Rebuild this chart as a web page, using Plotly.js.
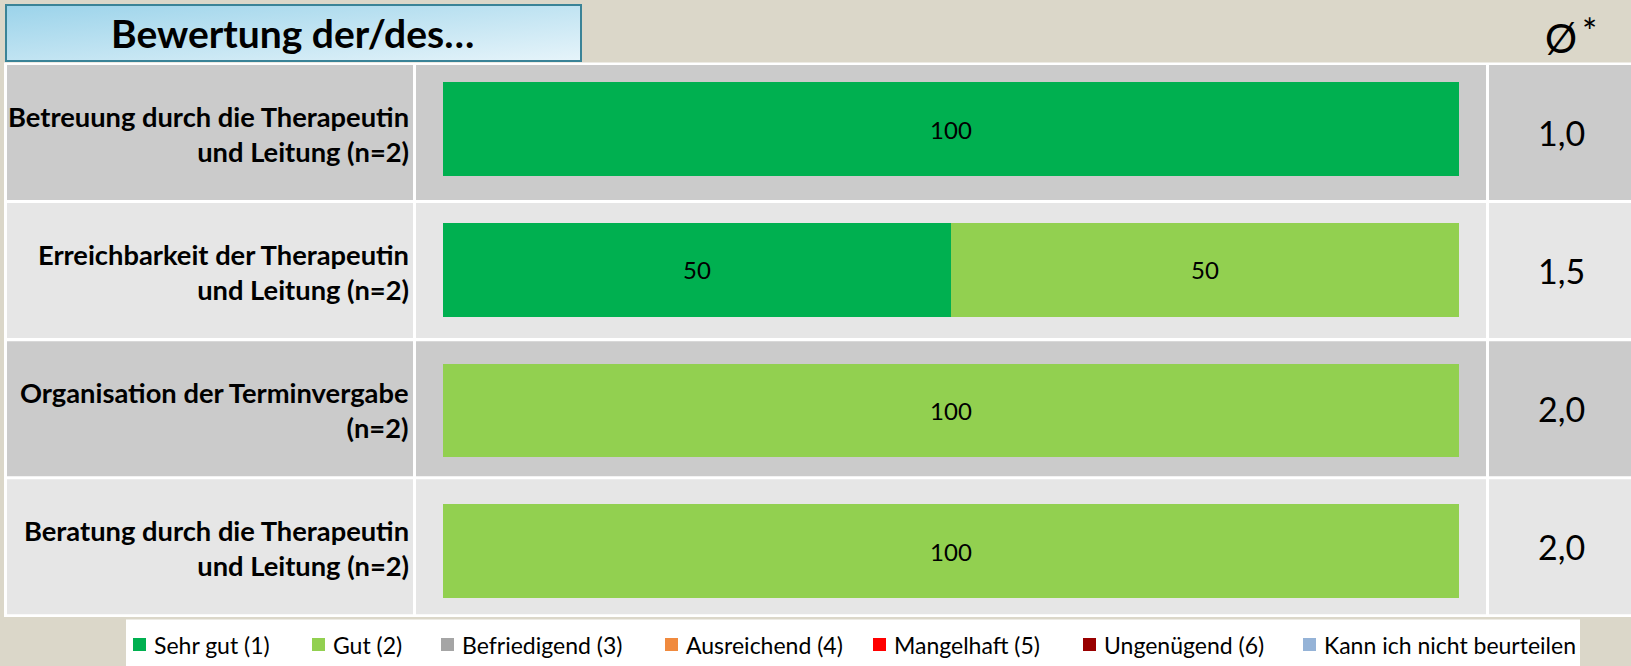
<!DOCTYPE html>
<html>
<head>
<meta charset="utf-8">
<script src="https://cdn.plot.ly/plotly-3.0.1.min.js"></script>
<style>
  html, body { margin: 0; padding: 0; background: #dbd7c9; }
  #chart { width: 1631px; height: 666px; }
</style>
</head>
<body>
<div id="chart"></div>
<script>
// ---------------- DATA ----------------
const titleText = "Bewertung der/des…";
const avgHeader = "Ø";
const avgMark = "*";
const categories = [
  "Betreuung durch die Therapeutin<br>und Leitung (n=2)",
  "Erreichbarkeit der Therapeutin<br>und Leitung (n=2)",
  "Organisation der Terminvergabe<br>(n=2)",
  "Beratung durch die Therapeutin<br>und Leitung (n=2)"
];
const seriesNames = ["Sehr gut (1)", "Gut (2)", "Befriedigend (3)", "Ausreichend (4)", "Mangelhaft (5)", "Ungenügend (6)", "Kann ich nicht beurteilen"];
const sehrGut      = [100, 50, 0, 0];
const gut          = [0, 50, 100, 100];
const befriedigend = [0, 0, 0, 0];
const ausreichend  = [0, 0, 0, 0];
const mangelhaft   = [0, 0, 0, 0];
const ungenuegend  = [0, 0, 0, 0];
const kannNicht    = [0, 0, 0, 0];
const averages = ["1,0", "1,5", "2,0", "2,0"];

// ---------------- STYLE / LAYOUT CONSTANTS ----------------
const W = 1631, H = 666;
const seriesColors = ["#00b050", "#92d050", "#a5a5a5", "#f08a3e", "#ff0000", "#990000", "#95b3d7"];
const FONT = "Lato, 'Open Sans', sans-serif";
const px = x => x / W;
const py = y => 1 - y / H;

const rowTop0 = 65, rowPitch = 138.1, rowH = 135;
const colLabel = [7, 413], colBar = [416, 1486], colAvg = [1489, 1631];
const rowColors = ["#cbcbcb", "#e6e6e6"];
const legendSquareX = [133, 312, 441, 665, 873, 1083, 1303];

// ---------------- TRACES ----------------
const seriesValues = [sehrGut, gut, befriedigend, ausreichend, mangelhaft, ungenuegend, kannNicht];
const traces = seriesValues.map((vals, i) => ({
  type: "bar",
  orientation: "h",
  name: seriesNames[i],
  x: vals,
  y: categories,
  marker: { color: seriesColors[i], line: { width: 0 } },
  text: vals.map(v => v > 0 ? String(v) : ""),
  textposition: "inside",
  insidetextanchor: "middle",
  textfont: { family: FONT, size: 24, color: "#000000" },
  constraintext: "none",
  hoverinfo: "skip",
  showlegend: false
}));

// ---------------- SHAPES ----------------
const shapes = [];
// white table frame
shapes.push({ type: "rect", xref: "paper", yref: "paper", layer: "below",
  x0: px(4), x1: px(W), y0: py(617), y1: py(62.5), fillcolor: "#ffffff", line: { width: 0 } });
categories.forEach((c, r) => {
  const t = rowTop0 + r * rowPitch, b = t + rowH;
  [colLabel, colBar, colAvg].forEach(col => {
    shapes.push({ type: "rect", xref: "paper", yref: "paper", layer: "below",
      x0: px(col[0]), x1: px(col[1]), y0: py(b), y1: py(t),
      fillcolor: rowColors[r % 2], line: { width: 0 } });
  });
});
// legend box
shapes.push({ type: "rect", xref: "paper", yref: "paper", layer: "below",
  x0: px(126), x1: px(1580), y0: py(H), y1: py(619.5), fillcolor: "#ffffff", line: { width: 0 } });
// legend squares
seriesNames.forEach((n, i) => {
  shapes.push({ type: "rect", xref: "paper", yref: "paper", layer: "above",
    x0: px(legendSquareX[i]), x1: px(legendSquareX[i] + 13), y0: py(651), y1: py(638),
    fillcolor: seriesColors[i], line: { width: 0 } });
});

// ---------------- ANNOTATIONS ----------------
const annotations = [];
annotations.push({ xref: "paper", yref: "paper", x: px(292), y: py(33), xanchor: "center", yanchor: "middle",
  text: "<b>" + titleText + "</b>", showarrow: false, font: { family: FONT, size: 39, color: "#000000" } });
annotations.push({ xref: "paper", yref: "paper", x: px(1561), y: py(38), xanchor: "center", yanchor: "middle",
  text: avgHeader, showarrow: false, font: { family: FONT, size: 40, color: "#000000" } });
annotations.push({ xref: "paper", yref: "paper", x: px(1589), y: py(31), xanchor: "center", yanchor: "middle",
  text: avgMark, showarrow: false, font: { family: FONT, size: 36, color: "#000000" } });
categories.forEach((c, r) => {
  const cy = rowTop0 + r * rowPitch + rowH / 2;
  annotations.push({ xref: "paper", yref: "paper", x: px(411), y: py(cy + 1), xanchor: "right", yanchor: "middle",
    align: "right", text: "<b>" + c + "</b>", showarrow: false,
    font: { family: FONT, size: 27.3, color: "#000000" } });
  annotations.push({ xref: "paper", yref: "paper", x: px(1561), y: py(cy), xanchor: "center", yanchor: "middle",
    text: averages[r], showarrow: false, font: { family: FONT, size: 34, color: "#000000" } });
});
seriesNames.forEach((n, i) => {
  annotations.push({ xref: "paper", yref: "paper", x: px(legendSquareX[i] + 19), y: py(645), xanchor: "left", yanchor: "middle",
    text: n, showarrow: false, font: { family: FONT, size: 23, color: "#000000" } });
});

// ---------------- TITLE BOX (gradient image) ----------------
const boxW = 577, boxH = 58;
const svg = `<svg xmlns='http://www.w3.org/2000/svg' width='${boxW}' height='${boxH}' viewBox='0 0 ${boxW} ${boxH}' preserveAspectRatio='none'>` +
  `<defs><linearGradient id='g' x1='0' y1='0' x2='1' y2='1'>` +
  `<stop offset='0' stop-color='#9bd3ea'/><stop offset='1' stop-color='#e6f4fa'/></linearGradient></defs>` +
  `<rect x='1' y='1' width='${boxW - 2}' height='${boxH - 2}' fill='url(#g)' stroke='#3a8397' stroke-width='2'/></svg>`;
const images = [{
  source: "data:image/svg+xml;charset=utf-8," + encodeURIComponent(svg),
  xref: "paper", yref: "paper", x: px(5), y: py(4), sizex: boxW / W, sizey: boxH / H,
  xanchor: "left", yanchor: "top", sizing: "stretch", layer: "below"
}];

// ---------------- LAYOUT ----------------
const barTop = 58.9, barBottom = 621.3;
const layout = {
  width: W, height: H,
  margin: { l: 0, r: 0, t: 0, b: 0, pad: 0 },
  paper_bgcolor: "#dbd7c9",
  plot_bgcolor: "rgba(0,0,0,0)",
  barmode: "stack",
  bargap: 0.334,
  showlegend: false,
  font: { family: FONT },
  xaxis: { domain: [px(443), px(1459)], range: [0, 100], visible: false, fixedrange: true },
  yaxis: { domain: [py(barBottom), py(barTop)], type: "category", categoryorder: "array",
    categoryarray: categories, autorange: "reversed", visible: false, fixedrange: true },
  shapes: shapes,
  annotations: annotations,
  images: images
};

Plotly.newPlot("chart", traces, layout, { staticPlot: true, displayModeBar: false });
</script>
</body>
</html>
